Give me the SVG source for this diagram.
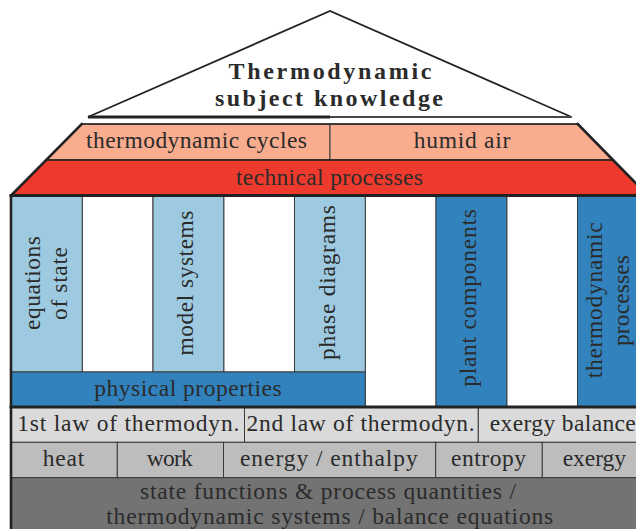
<svg xmlns="http://www.w3.org/2000/svg" width="636" height="529" viewBox="0 0 636 529" font-family="Times New Roman, Liberation Serif, serif">
  <style>
    .t { font-size: 23.5px; fill: #2b2b2b; text-anchor: middle; }
    .title { font-weight: bold; font-size: 24px; }
    .cell { stroke: #3a3a3a; stroke-width: 1; }
    .salmon { fill: #F9AC8E; }
    .red { fill: #EE3A2C; }
    .lblue { fill: #9ECAE1; }
    .dblue { fill: #3182BD; }
    .white { fill: #FFFFFF; }
    .g1 { fill: #DADADA; }
    .g2 { fill: #BDBDBD; }
    .g3 { fill: #737373; }
    .frame { stroke: #222; fill: none; stroke-linecap: square; }
  </style>

  <!-- roof -->
  <g id="roof">
    <polygon points="88,117 330,11 571.5,117" fill="#fff" stroke="#222" stroke-width="1.8" stroke-linejoin="miter"/>
    <line x1="88" y1="117" x2="330" y2="117" stroke="#222" stroke-width="2.8"/>
    <line x1="330" y1="117" x2="571.5" y2="117" stroke="#555" stroke-width="1.4"/>
    <text class="t title" x="330" y="79" textLength="203">Thermodynamic</text>
    <text class="t title" x="329" y="106" textLength="228">subject knowledge</text>
  </g>

  <!-- upper beam: cycles / humid air -->
  <g id="thermodynamic-cycles">
    <polygon class="salmon cell" points="81.7,124 330,124 330,160 46.7,160"/>
    <text class="t" x="196.5" y="148" textLength="221">thermodynamic cycles</text>
  </g>
  <g id="humid-air">
    <polygon class="salmon cell" points="330,124 577.7,124 611.7,160 330,160"/>
    <text class="t" x="462" y="148" textLength="96.5">humid air</text>
  </g>

  <!-- lower beam -->
  <g id="technical-processes">
    <polygon class="red cell" points="46.7,160 611.7,160 647.2,195.5 11.2,195.5"/>
    <text class="t" x="329.5" y="185" textLength="187">technical processes</text>
  </g>

  <!-- pillars -->
  <g id="gaps">
    <rect class="white cell" x="82.25" y="195.5" width="70.75" height="176.5"/>
    <rect class="white cell" x="223.75" y="195.5" width="70.75" height="176.5"/>
    <rect class="white cell" x="365.25" y="195.5" width="70.75" height="211.5"/>
    <rect class="white cell" x="506.75" y="195.5" width="70.75" height="211.5"/>
  </g>
  <g id="equations-of-state">
    <rect class="lblue cell" x="11.5" y="195.5" width="70.75" height="176.5"/>
    <text class="t" transform="translate(40,283) rotate(-90)" textLength="94">equations</text>
    <text class="t" transform="translate(67,283.5) rotate(-90)" textLength="73">of state</text>
  </g>
  <g id="model-systems">
    <rect class="lblue cell" x="153" y="195.5" width="70.75" height="176.5"/>
    <text class="t" transform="translate(193,283) rotate(-90)" textLength="145">model systems</text>
  </g>
  <g id="phase-diagrams">
    <rect class="lblue cell" x="294.5" y="195.5" width="70.75" height="176.5"/>
    <text class="t" transform="translate(335,282.5) rotate(-90)" textLength="155">phase diagrams</text>
  </g>
  <g id="plant-components">
    <rect class="dblue cell" x="436" y="195.5" width="70.75" height="211.5"/>
    <text class="t" transform="translate(476,298) rotate(-90)" textLength="177.7">plant components</text>
  </g>
  <g id="thermodynamic-processes">
    <rect class="dblue cell" x="577.5" y="195.5" width="70.75" height="211.5"/>
    <text class="t" transform="translate(602,300.3) rotate(-90)" textLength="156">thermodynamic</text>
    <text class="t" transform="translate(629,300.5) rotate(-90)" textLength="91">processes</text>
  </g>
  <g id="physical-properties">
    <rect class="dblue cell" x="11.5" y="372" width="353.75" height="35"/>
    <text class="t" x="188" y="396" textLength="187.3">physical properties</text>
  </g>

  <!-- laws -->
  <g id="first-law">
    <rect class="g1 cell" x="11.5" y="407" width="233" height="35.3"/>
    <text class="t" x="128.3" y="431" textLength="222">1st law of thermodyn.</text>
  </g>
  <g id="second-law">
    <rect class="g1 cell" x="244.5" y="407" width="233.8" height="35.3"/>
    <text class="t" x="360.5" y="431" textLength="228">2nd law of thermodyn.</text>
  </g>
  <g id="exergy-balance">
    <rect class="g1 cell" x="478.3" y="407" width="170" height="35.3"/>
    <text class="t" x="562.8" y="431" textLength="146">exergy balance</text>
  </g>

  <!-- quantities -->
  <g id="heat">
    <rect class="g2 cell" x="11.5" y="442.3" width="105.8" height="35.4"/>
    <text class="t" x="63.5" y="466" textLength="41.6">heat</text>
  </g>
  <g id="work">
    <rect class="g2 cell" x="117.3" y="442.3" width="106.2" height="35.4"/>
    <text class="t" x="169.7" y="466" textLength="46">work</text>
  </g>
  <g id="energy-enthalpy">
    <rect class="g2 cell" x="223.5" y="442.3" width="212.2" height="35.4"/>
    <text class="t" x="328.8" y="466" textLength="177.7">energy / enthalpy</text>
  </g>
  <g id="entropy">
    <rect class="g2 cell" x="435.7" y="442.3" width="106.6" height="35.4"/>
    <text class="t" x="488.5" y="466" textLength="75">entropy</text>
  </g>
  <g id="exergy">
    <rect class="g2 cell" x="542.3" y="442.3" width="106" height="35.4"/>
    <text class="t" x="594.3" y="466" textLength="63.3">exergy</text>
  </g>

  <!-- foundation -->
  <g id="foundation">
    <rect class="g3 cell" x="11.5" y="477.7" width="636.75" height="60"/>
    <text class="t" x="328" y="499.3" textLength="376">state functions &amp; process quantities /</text>
    <text class="t" x="329.7" y="524" textLength="447">thermodynamic systems / balance equations</text>
  </g>

  <!-- heavy outline of the building -->
  <g id="outline">
    <line class="frame" x1="81.7" y1="124" x2="577.7" y2="124" stroke-width="1.6"/>
    <line class="frame" x1="46.7" y1="160" x2="611.7" y2="160" stroke-width="1.6"/>
    <polyline class="frame" points="81.7,124 11,195.5 11,540" stroke-width="2.6"/>
    <polyline class="frame" points="577.7,124 648,195.5" stroke-width="2.6"/>
    <line class="frame" x1="11" y1="195.5" x2="650" y2="195.5" stroke-width="3"/>
    <line class="frame" x1="11" y1="407" x2="650" y2="407" stroke-width="3"/>
  </g>
</svg>
